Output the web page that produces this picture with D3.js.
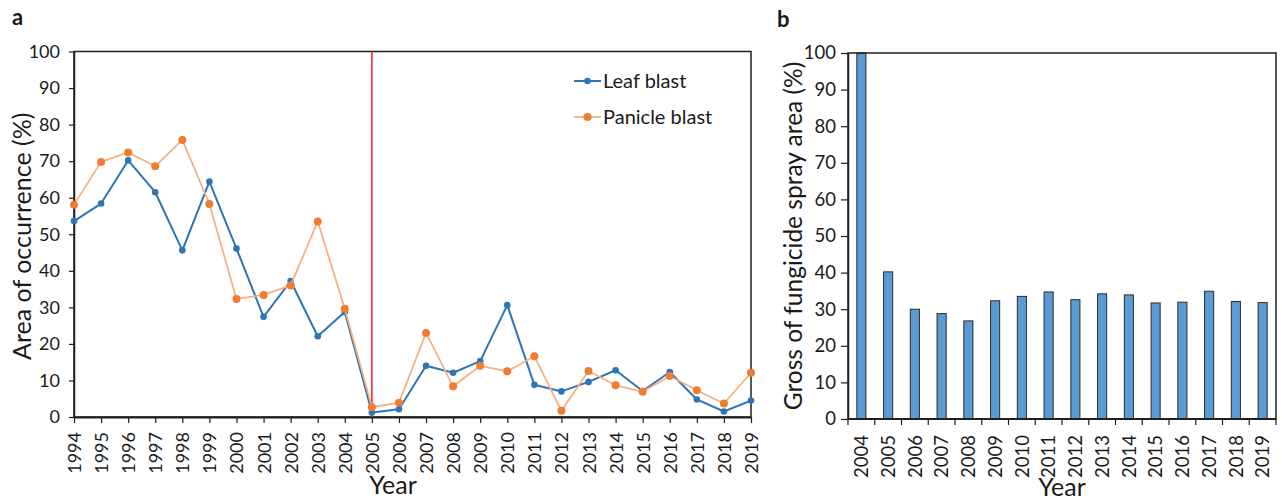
<!DOCTYPE html>
<html><head><meta charset="utf-8">
<script src="https://cdn.jsdelivr.net/npm/d3@7"></script>
<style>
body{margin:0;background:#fff}
svg{display:block}
text{font-family:Lato, "Open Sans", sans-serif;fill:#1a1a1a}
</style>
</head><body>
<svg id="c" width="1283" height="502"></svg>
<script>
// ---- data ----
const yearsA = [1994,1995,1996,1997,1998,1999,2000,2001,2002,2003,2004,2005,2006,2007,2008,2009,2010,2011,2012,2013,2014,2015,2016,2017,2018,2019];
const leafBlast = [53.6,58.4,70.2,61.5,45.6,64.4,46.1,27.4,37.2,22.1,28.7,1.2,2.1,14.0,12.1,15.3,30.6,8.8,7.0,9.6,12.8,7.1,12.3,4.8,1.5,4.5];
const panicleBlast = [58.1,69.8,72.4,68.6,75.8,58.3,32.3,33.4,36.0,53.5,29.6,2.7,3.9,23.0,8.4,14.0,12.5,16.6,1.7,12.6,8.7,6.9,11.2,7.3,3.7,12.1];
const yearsB = [2004,2005,2006,2007,2008,2009,2010,2011,2012,2013,2014,2015,2016,2017,2018,2019];
const sprayArea = [100,40.2,30.0,28.8,26.8,32.3,33.5,34.7,32.6,34.2,33.9,31.7,31.9,34.9,32.1,31.8];
const yTicks = [0,10,20,30,40,50,60,70,80,90,100];
const markerYear = 2005;
const seriesNames = ["Leaf blast","Panicle blast"];

const svg = d3.select("#c");
const axisCol = "#1f1f1f";

// ================= Panel a =================
const A = {l:74, r:751, t:51.5, b:417};
const xA = d3.scalePoint().domain(yearsA).range([A.l, A.r]);
const yA = d3.scaleLinear().domain([0,100]).range([A.b, A.t]);
const gA = svg.append("g");

gA.append("rect").attr("x",A.l).attr("y",A.t).attr("width",A.r-A.l).attr("height",A.b-A.t)
  .attr("fill","none").attr("stroke",axisCol).attr("stroke-width",1.5);

const yAxA = gA.append("g").attr("transform",`translate(${A.l},0)`)
  .call(d3.axisLeft(yA).tickValues(yTicks).tickSize(5).tickPadding(9).tickSizeOuter(0));
yAxA.select(".domain").attr("stroke",axisCol).attr("stroke-width",1.5);
yAxA.selectAll(".tick line").attr("stroke",axisCol).attr("stroke-width",1.2);
yAxA.selectAll("text").attr("font-size",18).attr("fill","#1a1a1a").attr("font-family","Lato");

const xAxA = gA.append("g").attr("transform",`translate(0,${A.b})`)
  .call(d3.axisBottom(xA).tickSize(6).tickSizeOuter(0));
xAxA.select(".domain").attr("stroke",axisCol).attr("stroke-width",2);
xAxA.selectAll(".tick line").attr("stroke",axisCol).attr("stroke-width",1.2);
xAxA.selectAll("text").attr("font-size",18).attr("fill","#1a1a1a").attr("font-family","Lato")
  .attr("text-anchor","end").attr("transform","translate(0,15) rotate(-90)")
  .attr("x",0).attr("y",0).attr("dy","0.36em");

gA.append("line").attr("x1",xA(markerYear)).attr("x2",xA(markerYear))
  .attr("y1",A.t).attr("y2",A.b).attr("stroke","#ff1a1a").attr("stroke-width",1.5);

const lineGen = d3.line().x((d,i)=>xA(yearsA[i])).y(d=>yA(d));
const series = [
  {name:seriesNames[0], vals:leafBlast, line:"#2E75B6", pt:"#2E75B6", lw:2, r:3.3},
  {name:seriesNames[1], vals:panicleBlast, line:"#F4B183", pt:"#ED7D31", lw:1.8, r:4}
];
series.forEach(s=>{
  gA.append("path").datum(s.vals).attr("d",lineGen).attr("fill","none")
    .attr("stroke",s.line).attr("stroke-width",s.lw).attr("stroke-linejoin","round");
  gA.selectAll(null).data(s.vals).enter().append("circle")
    .attr("cx",(d,i)=>xA(yearsA[i])).attr("cy",d=>yA(d)).attr("r",s.r).attr("fill",s.pt);
});

series.forEach((s,i)=>{
  const ly = 81 + i*36;
  gA.append("line").attr("x1",574).attr("x2",601).attr("y1",ly).attr("y2",ly)
    .attr("stroke",s.line).attr("stroke-width",s.lw);
  gA.append("circle").attr("cx",587.5).attr("cy",ly).attr("r",s.r).attr("fill",s.pt);
  gA.append("text").attr("x",603).attr("y",ly).attr("dy","0.35em")
    .attr("font-size",20).text(s.name);
});

gA.append("text").attr("transform",`translate(31,${(A.t+A.b)/2+2}) rotate(-90)`)
  .attr("text-anchor","middle").attr("font-size",25).text("Area of occurrence (%)");
gA.append("text").attr("x",393).attr("y",494).attr("text-anchor","middle")
  .attr("font-size",25).text("Year");
gA.append("text").attr("x",12).attr("y",25).attr("font-size",22).attr("font-weight","bold").text("a");

// ================= Panel b =================
const B = {l:848, r:1276, t:53, b:419};
const xB = d3.scaleBand().domain(yearsB).range([B.l, B.r]).paddingInner(0.66).paddingOuter(0.33);
const yB = d3.scaleLinear().domain([0,100]).range([B.b, B.t]);
const gB = svg.append("g");

gB.selectAll(null).data(sprayArea).enter().append("rect")
  .attr("x",(d,i)=>xB(yearsB[i])).attr("width",xB.bandwidth())
  .attr("y",d=>yB(d)).attr("height",d=>B.b-yB(d))
  .attr("fill","#5B9BD5").attr("stroke","#2a2a2a").attr("stroke-width",1);

gB.append("rect").attr("x",B.l).attr("y",B.t).attr("width",B.r-B.l).attr("height",B.b-B.t)
  .attr("fill","none").attr("stroke",axisCol).attr("stroke-width",1.5);

const yAxB = gB.append("g").attr("transform",`translate(${B.l},0)`)
  .call(d3.axisLeft(yB).tickValues(yTicks).tickSize(7).tickPadding(5).tickSizeOuter(0));
yAxB.select(".domain").attr("stroke",axisCol).attr("stroke-width",1.5);
yAxB.selectAll(".tick line").attr("stroke",axisCol).attr("stroke-width",1.2);
yAxB.selectAll("text").attr("font-size",18.5).attr("fill","#1a1a1a").attr("font-family","Lato");

const bounds = d3.range(yearsB.length+1).map(i=>B.l + i*(B.r-B.l)/yearsB.length);
const xAxB = gB.append("g").attr("transform",`translate(0,${B.b})`);
xAxB.append("line").attr("x1",B.l).attr("x2",B.r).attr("stroke",axisCol).attr("stroke-width",2);
xAxB.selectAll(null).data(bounds).enter().append("line")
  .attr("x1",d=>d).attr("x2",d=>d).attr("y1",0).attr("y2",6)
  .attr("stroke",axisCol).attr("stroke-width",1.2);
xAxB.selectAll(null).data(yearsB).enter().append("text")
  .attr("transform",d=>`translate(${xB(d)+xB.bandwidth()/2},16) rotate(-90)`)
  .attr("text-anchor","end").attr("dy","0.36em").attr("font-size",18.5).text(d=>d);

gB.append("text").attr("transform",`translate(802,${(B.t+B.b)/2}) rotate(-90)`)
  .attr("text-anchor","middle").attr("font-size",24.5).text("Gross of fungicide spray area (%)");
gB.append("text").attr("x",1062).attr("y",496).attr("text-anchor","middle")
  .attr("font-size",25).text("Year");
gB.append("text").attr("x",777).attr("y",27).attr("font-size",22).attr("font-weight","bold").text("b");
</script>
</body></html>
